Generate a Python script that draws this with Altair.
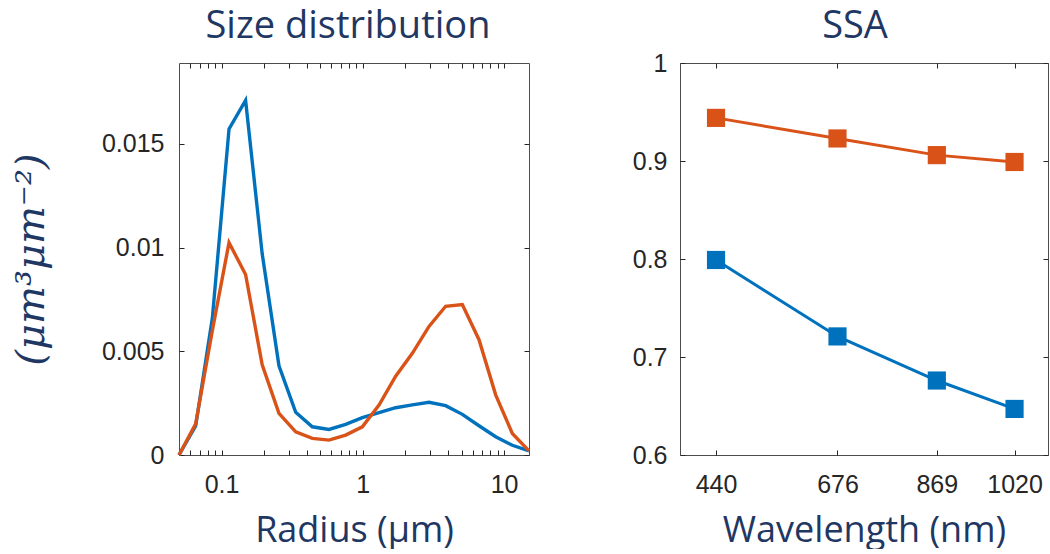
import altair as alt
import pandas as pd

# ---------------- data ----------------
radius = [0.05, 0.0656, 0.0861, 0.113, 0.148, 0.194, 0.255, 0.335, 0.439, 0.576, 0.756,
          0.992, 1.302, 1.708, 2.241, 2.940, 3.857, 5.061, 6.641, 8.713, 11.43, 15.0]
sd_blue = [0.0, 0.0014, 0.0066, 0.01572, 0.0171, 0.0097, 0.0043, 0.00206, 0.00136, 0.00123,
           0.00148, 0.0018, 0.00204, 0.00228, 0.00242, 0.00254, 0.00238, 0.00196, 0.00141,
           0.00088, 0.00047, 0.0002]
sd_orange = [0.0, 0.0015, 0.0060, 0.01024, 0.0087, 0.00435, 0.00201, 0.00112, 0.0008, 0.00072,
             0.00096, 0.00136, 0.00241, 0.0038, 0.0049, 0.0062, 0.00717, 0.00725, 0.00556,
             0.0029, 0.00104, 0.0002]

wavelength = [440, 676, 869, 1020]
ssa_blue = [0.799, 0.721, 0.676, 0.647]
ssa_orange = [0.944, 0.923, 0.906, 0.899]

series_names = ["Blue", "Orange"]
x_major_sd = [0.1, 1, 10]
x_minor_sd = [0.06, 0.07, 0.08, 0.09, 0.1, 0.2, 0.3, 0.4, 0.5, 0.6, 0.7, 0.8, 0.9,
              1, 2, 3, 4, 5, 6, 7, 8, 9, 10]
y_ticks_sd = [0, 0.005, 0.01, 0.015]
y_ticks_ssa = [0.6, 0.7, 0.8, 0.9, 1.0]

BLUE = "#0072BD"
ORANGE = "#D95319"
NAVY = "#1F3763"
TICKC = "#262626"

sd_df = pd.DataFrame({
    "radius": radius * 2,
    "value": sd_blue + sd_orange,
    "series": [series_names[0]] * len(radius) + [series_names[1]] * len(radius),
})
ssa_df = pd.DataFrame({
    "wavelength": wavelength * 2,
    "ssa": ssa_blue + ssa_orange,
    "series": [series_names[0]] * len(wavelength) + [series_names[1]] * len(wavelength),
})

color = alt.Color("series:N", scale=alt.Scale(domain=series_names, range=[BLUE, ORANGE]), legend=None)

LABEL_FONT = "Liberation Sans"
LABEL_SIZE = 25
TITLE_FONT = "Open Sans"
AX_TITLE_SIZE = 36


def tick_axis(vals, orient):
    return alt.Axis(values=vals, labels=False, title=None, tickSize=5, offset=-5,
                    domain=False, grid=False, orient=orient, tickColor=TICKC, tickWidth=1)


def panel(df, xf, yf, xscale, yscale, xlab, xticks, xfmt, ylab, yticks, yfmt,
          xtitle, ytitle, ttl, tdx, toff, w, h, main_mark, ylab_pad, ytitle_pad):
    yaxis_kwargs = dict(values=ylab, format=yfmt, tickSize=0, domain=False, grid=False,
                        orient="left", labelPadding=ylab_pad, labelFont=LABEL_FONT,
                        labelFontSize=LABEL_SIZE, labelColor=TICKC)
    if ytitle:
        yaxis_kwargs.update(title=ytitle, titleFont="DejaVu Serif", titleFontStyle="italic",
                            titleFontSize=40, titleFontWeight="normal", titleColor=NAVY,
                            titlePadding=ytitle_pad)
    else:
        yaxis_kwargs.update(title=None)
    main = main_mark.encode(
        x=alt.X(xf, scale=xscale,
                axis=alt.Axis(values=xlab, format=xfmt, tickSize=0, domain=False, grid=False,
                              orient="bottom", labelPadding=17, labelFont=LABEL_FONT,
                              labelFontSize=LABEL_SIZE, labelColor=TICKC, title=xtitle,
                              titleFont=TITLE_FONT, titleFontSize=AX_TITLE_SIZE,
                              titleFontWeight="normal", titleColor=NAVY, titlePadding=16,
                              labelFlush=False)),
        y=alt.Y(yf, scale=yscale, axis=alt.Axis(**yaxis_kwargs)),
        color=color,
    )
    t1 = alt.Chart(df).mark_line(strokeOpacity=0).encode(
        x=alt.X(xf, scale=xscale, axis=tick_axis(xticks, "bottom")),
        y=alt.Y(yf, scale=yscale, axis=tick_axis(yticks, "left")),
        detail="series:N",
    )
    t2 = alt.Chart(df).mark_line(strokeOpacity=0).encode(
        x=alt.X(xf, scale=xscale, axis=tick_axis(xticks, "top")),
        y=alt.Y(yf, scale=yscale, axis=tick_axis(yticks, "right")),
        detail="series:N",
    )
    return alt.layer(main, t1, t2).resolve_axis(x="independent", y="independent").properties(
        width=w, height=h,
        title=alt.TitleParams(ttl, anchor="middle", dx=tdx, font=TITLE_FONT, fontSize=38,
                              fontWeight="normal", color=NAVY, offset=toff, frame="group"),
    )


left = panel(
    sd_df, "radius:Q", "value:Q",
    alt.Scale(type="log", domain=[0.05, 15], nice=False),
    alt.Scale(domain=[0, 0.0189], nice=False, zero=False),
    x_major_sd, x_minor_sd, "~g", y_ticks_sd, y_ticks_sd, ".3~f",
    "Radius (μm)", "(μm³μm⁻²)", "Size distribution", -6, 17, 350, 392,
    alt.Chart(sd_df).mark_line(strokeWidth=3.4),
    15, 50,
)

right = panel(
    ssa_df, "wavelength:Q", "ssa:Q",
    alt.Scale(domain=[370, 1085], nice=False, zero=False),
    alt.Scale(domain=[0.6, 1.0], nice=False, zero=False),
    wavelength, wavelength, "d", y_ticks_ssa, y_ticks_ssa, ".1~f",
    "Wavelength (nm)", None, "SSA", -9, 5, 368, 392,
    alt.Chart(ssa_df).mark_line(strokeWidth=3, point=alt.OverlayMarkDef(shape="square", size=330, filled=True, opacity=1)),
    13, 0,
)

chart = alt.hconcat(left, right, spacing=94).properties(
    padding={"left": 10, "top": 7, "right": 0, "bottom": 0},
    background="white",
).configure_view(stroke="#4d4d4d", strokeWidth=1).configure_concat(spacing=94)

chart.save("out.html", embed_options={"renderer": "svg", "actions": False})
